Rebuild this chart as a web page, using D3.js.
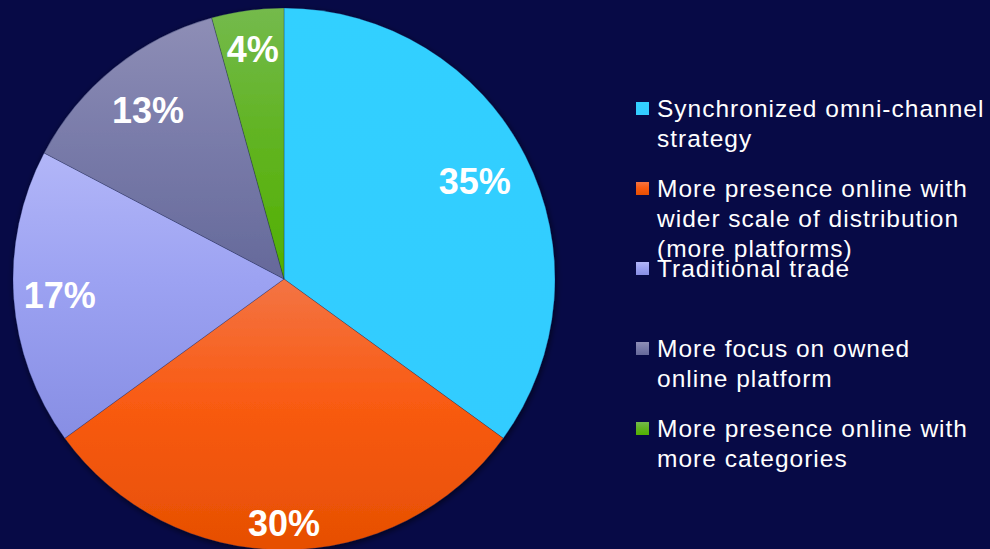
<!DOCTYPE html>
<html>
<head>
<meta charset="utf-8">
<script src="https://cdn.jsdelivr.net/npm/d3@7"></script>
<style>
  html, body { margin: 0; padding: 0; background: #070a46; overflow: hidden; }
  svg { display: block; }
</style>
</head>
<body>
<svg id="chart" width="990" height="549"></svg>
<script>
// ---- data ----
const categories = [
  ["Synchronized omni-channel", "strategy"],
  ["More presence online with", "wider scale of distribution", "(more platforms)"],
  ["Traditional trade"],
  ["More focus on owned", "online platform"],
  ["More presence online with", "more categories"]
];
const values = [35, 30, 17.7, 13, 4.3];
const labels = ["35%", "30%", "17%", "13%", "4%"];

// ---- style ----
const colorsTop = ["#33d0ff", "#f37444", "#b2b6f8", "#8e8eb6", "#74ba4c"];
const colorsMid = ["#33ceff", "#f95b12", "#9ca2f2", "#7a7caa", "#62b424"];
const colorsBottom = ["#33ccff", "#e64f02", "#878ee4", "#65699a", "#52b000"];
const labelRadiusFactor = [0.79, 0.9, 0.83, 0.8, 0.855];

const W = 990, H = 549;
const cx = 284, cy = 279, R = 271;

const svg = d3.select("#chart");
svg.append("rect").attr("width", W).attr("height", H).attr("fill", "#070a46");

const defs = svg.append("defs");
values.forEach((v, i) => {
  const g = defs.append("linearGradient")
    .attr("id", "grad" + i)
    .attr("x1", 0).attr("y1", 0).attr("x2", 0).attr("y2", 1);
  g.append("stop").attr("offset", "0%").attr("stop-color", colorsTop[i]);
  g.append("stop").attr("offset", "45%").attr("stop-color", colorsMid[i]);
  g.append("stop").attr("offset", "100%").attr("stop-color", colorsBottom[i]);
});
const f = defs.append("filter").attr("id", "shadow")
  .attr("x", "-10%").attr("y", "-10%").attr("width", "120%").attr("height", "120%");
f.append("feGaussianBlur").attr("in", "SourceAlpha").attr("stdDeviation", 3).attr("result", "b");
f.append("feOffset").attr("in", "b").attr("dx", 1).attr("dy", 2).attr("result", "o");
f.append("feComponentTransfer").attr("in", "o").attr("result", "s")
  .append("feFuncA").attr("type", "linear").attr("slope", 0.6);
const fm = f.append("feMerge");
fm.append("feMergeNode").attr("in", "s");
fm.append("feMergeNode").attr("in", "SourceGraphic");

const pie = d3.pie().sort(null).value(d => d);
const arcs = pie(values);
const arc = d3.arc().innerRadius(0).outerRadius(R);

const g = svg.append("g").attr("transform", `translate(${cx},${cy})`);
const slices = g.append("g").attr("filter", "url(#shadow)");
slices.selectAll("path")
  .data(arcs)
  .join("path")
  .attr("d", arc)
  .attr("fill", (d, i) => `url(#grad${i})`)
  .attr("stroke", "rgba(20,30,80,0.45)")
  .attr("stroke-width", 0.6);

g.selectAll("text.lbl")
  .data(arcs)
  .join("text")
  .attr("class", "lbl")
  .attr("transform", (d, i) => {
    const a = (d.startAngle + d.endAngle) / 2;
    const r = R * labelRadiusFactor[i];
    return `translate(${Math.sin(a) * r},${-Math.cos(a) * r})`;
  })
  .attr("text-anchor", "middle")
  .attr("dy", "0.35em")
  .attr("fill", "#ffffff")
  .attr("font-family", "'Liberation Sans', Arial, sans-serif")
  .attr("font-weight", "bold")
  .attr("font-size", "36px")
  .text((d, i) => labels[i]);

// ---- legend ----
const legend = svg.append("g").attr("transform", "translate(636,117)");
const rowStep = 80, lineH = 30;
const items = legend.selectAll("g.item")
  .data(categories)
  .join("g")
  .attr("class", "item")
  .attr("transform", (d, i) => `translate(0,${i * rowStep})`);
items.append("rect")
  .attr("x", 0).attr("y", -15).attr("width", 13).attr("height", 13)
  .attr("fill", (d, i) => `url(#grad${i})`);
items.append("text")
  .attr("x", 21)
  .attr("fill", "#ffffff")
  .attr("font-family", "'Liberation Sans', Arial, sans-serif")
  .attr("font-size", "24.5px")
  .attr("letter-spacing", "1px")
  .selectAll("tspan")
  .data(d => d)
  .join("tspan")
  .attr("x", 21)
  .attr("y", (d, j) => j * lineH)
  .text(d => d);
</script>
</body>
</html>
